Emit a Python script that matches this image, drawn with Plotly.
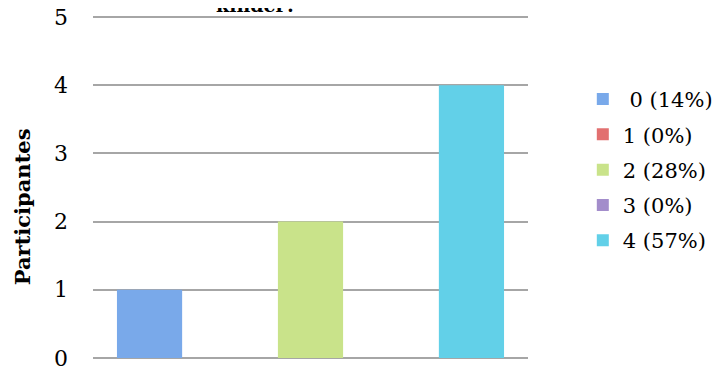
import plotly.graph_objects as go

# datos
categorias = ["0", "1", "2", "3", "4"]
participantes = [1, 0, 2, 0, 4]
etiquetas = ["\u00a00 (14%)", "1 (0%)", "2 (28%)", "3 (0%)", "4 (57%)"]
colores = ["#79A9EA", "#E27070", "#C9E38A", "#A38DCB", "#62D0E8"]

fig = go.Figure()
for i in range(len(categorias)):
    fig.add_trace(go.Bar(
        x=[""],
        y=[participantes[i]],
        name=etiquetas[i],
        legendgroup=categorias[i],
        marker=dict(color=colores[i], line=dict(width=0)),
    ))

fuente = "DejaVu Serif"

# la página tiene 8px de margen en el body, así que la figura es 8px más pequeña
# rango un poco más amplio para que plotly dibuje las rejillas en 0 y 5
fig.update_layout(
    width=712, height=366,
    margin=dict(l=85, r=192, t=7, b=14, autoexpand=False),
    paper_bgcolor="white", plot_bgcolor="white",
    barmode="group", bargap=0.075, bargroupgap=0.19,
    font=dict(family=fuente, size=21, color="black"),
    showlegend=True,
    legend=dict(x=1.126, xanchor="left", xref="paper", y=0.551, yanchor="middle",
                font=dict(size=21), tracegroupgap=5, itemwidth=30,
                bgcolor="rgba(0,0,0,0)"),
    xaxis=dict(showticklabels=False, showgrid=False, zeroline=False,
               showline=False, ticks="", automargin=False),
    yaxis=dict(range=[-0.03, 5.03], tickvals=[0, 1, 2, 3, 4, 5],
               showgrid=True, gridcolor="#A6A6A6",
               gridwidth=2, zeroline=False, showline=False, ticks="",
               ticklabelstandoff=24, tickfont=dict(size=22), automargin=False,
               ticklabeloverflow="allow"),
    annotations=[
        dict(text="<b>Participantes</b>", xref="paper", yref="paper",
             x=-0.163, y=0.443, textangle=-90, showarrow=False,
             font=dict(size=21), xanchor="center", yanchor="middle"),
        dict(text="<b>kinder?</b>", xref="paper", yref="paper",
             x=0.375, y=0.991, showarrow=False, font=dict(size=19),
             xanchor="center", yanchor="bottom"),
    ],
)

fig.write_html("out.html")
